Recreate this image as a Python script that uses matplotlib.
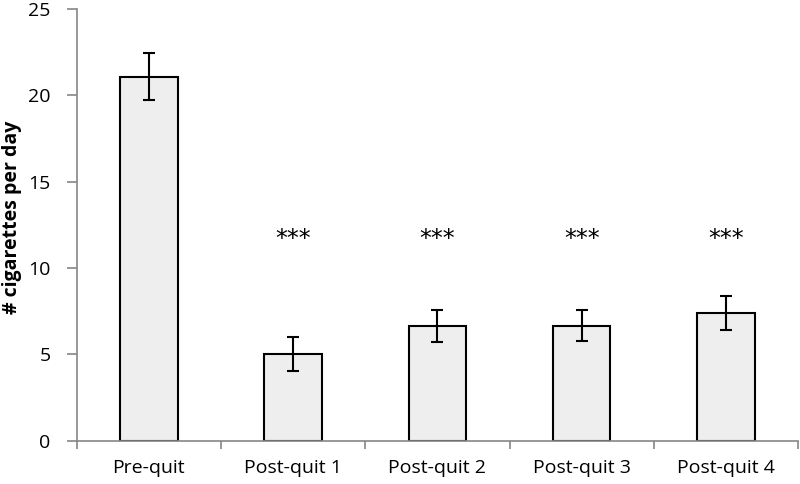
import matplotlib.pyplot as plt
import numpy as np

categories = ['Pre-quit', 'Post-quit 1', 'Post-quit 2', 'Post-quit 3', 'Post-quit 4']
means = [21.1, 5.0, 6.65, 6.65, 7.4]
errors = [1.37, 0.98, 0.95, 0.9, 0.98]
stars = ['', '***', '***', '***', '***']
star_y = 11.7

plt.rcParams['font.family'] = ['Open Sans', 'DejaVu Sans']

fig = plt.figure(figsize=(8, 4.84), dpi=100)
ax = fig.add_axes([0.096, 0.0895, 0.9015, 0.8915])

x = np.arange(len(categories))
ax.bar(x, means, width=0.4, color='#eeeeee', edgecolor='black', linewidth=1.5,
       yerr=errors, capsize=4.5,
       error_kw=dict(ecolor='black', elinewidth=1.5, capthick=1.5))

for xi, s in zip(x, stars):
    if s:
        ax.text(xi, star_y, s, ha='center', va='center', fontsize=17,
                family='DejaVu Sans')

ax.set_xlim(-0.5, len(categories) - 0.5)
ax.set_ylim(0, 25)
ax.set_yticks([0, 5, 10, 15, 20, 25])
ax.set_xticks(x)
ax.set_xticklabels(categories)
ax.set_xticks(np.arange(len(categories) + 1) - 0.5, minor=True)
ax.tick_params(axis='x', which='major', length=0, pad=13, labelsize=14)
ax.tick_params(axis='x', which='minor', length=6, color='#868686', width=1.2)
ax.tick_params(axis='y', length=7, color='#868686', width=1.2, labelsize=14, pad=12)

for side in ['top', 'right']:
    ax.spines[side].set_visible(False)
for side in ['left', 'bottom']:
    ax.spines[side].set_color('#868686')
    ax.spines[side].set_linewidth(1.2)

ax.set_ylabel('# cigarettes per day', fontsize=14, fontweight='bold')
ax.yaxis.set_label_coords(-0.076, 0.517)

fig.savefig('out.png', dpi=100)
